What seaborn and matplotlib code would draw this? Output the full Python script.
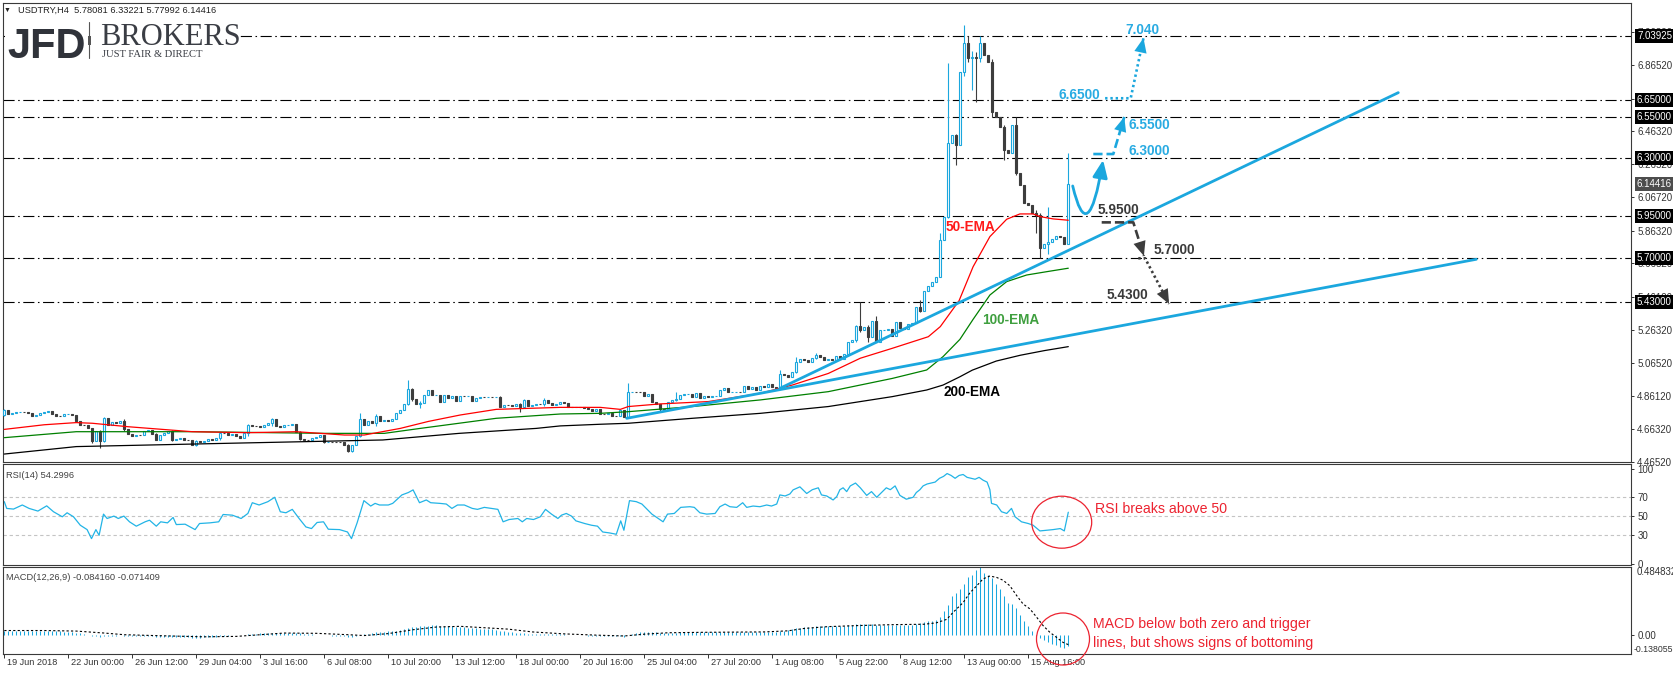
import matplotlib
matplotlib.use("Agg")
import matplotlib.pyplot as plt
from matplotlib.patches import Rectangle, Ellipse, FancyArrowPatch
from matplotlib.lines import Line2D
from matplotlib.path import Path
from matplotlib.transforms import blended_transform_factory
import numpy as np
import seaborn as sns

W, H = 1674, 675
BLUE = "#1ba7de"
RSI_BLUE = "#22b4e6"
DARK = "#3d3d3d"
RED = "#ec2330"
TXT = "#333333"

# ---------------- data ----------------
first_open = 4.749
closes = [
    4.778, 4.752, 4.758, 4.765, 4.770, 4.768, 4.760, 4.745, 4.749, 4.758, 4.768, 4.775, 4.755, 4.745, 4.740, 4.752,
    4.755, 4.748, 4.712, 4.690, 4.688, 4.668, 4.590, 4.650, 4.590, 4.728, 4.690, 4.705, 4.700, 4.715, 4.665, 4.632,
    4.625, 4.628, 4.626, 4.655, 4.660, 4.632, 4.600, 4.628, 4.640, 4.655, 4.598, 4.602, 4.607, 4.600, 4.598, 4.565,
    4.592, 4.588, 4.590, 4.602, 4.598, 4.608, 4.640, 4.638, 4.628, 4.634, 4.625, 4.612, 4.640, 4.688, 4.682, 4.680,
    4.678, 4.689, 4.700, 4.722, 4.680, 4.678, 4.688, 4.690, 4.693, 4.648, 4.603, 4.600, 4.598, 4.612, 4.614, 4.628,
    4.585, 4.588, 4.586, 4.584, 4.583, 4.570, 4.530, 4.568, 4.620, 4.722, 4.690, 4.715, 4.700, 4.745, 4.712, 4.718,
    4.715, 4.722, 4.760, 4.780, 4.815, 4.905, 4.845, 4.815, 4.820, 4.870, 4.897, 4.870, 4.872, 4.830, 4.868, 4.850,
    4.862, 4.835, 4.865, 4.862, 4.862, 4.835, 4.850, 4.858, 4.856, 4.856, 4.855, 4.858, 4.800, 4.810, 4.808, 4.806,
    4.815, 4.800, 4.840, 4.805, 4.808, 4.818, 4.815, 4.842, 4.822, 4.810, 4.814, 4.825, 4.820, 4.800, 4.795, 4.800,
    4.798, 4.790, 4.785, 4.772, 4.785, 4.755, 4.752, 4.758, 4.745, 4.741, 4.778, 4.735, 4.885, 4.890, 4.888, 4.886,
    4.862, 4.875, 4.830, 4.818, 4.785, 4.779, 4.830, 4.838, 4.845, 4.870, 4.875, 4.876, 4.857, 4.884, 4.850, 4.864,
    4.860, 4.862, 4.864, 4.900, 4.910, 4.885, 4.890, 4.890, 4.888, 4.924, 4.905, 4.918, 4.900, 4.925, 4.920, 4.936,
    4.918, 4.915, 4.998, 4.990, 4.980, 5.010, 5.072, 5.085, 5.080, 5.070, 5.092, 5.112, 5.100, 5.082, 5.090, 5.080,
    5.105, 5.090, 5.120, 5.192, 5.200, 5.287, 5.262, 5.278, 5.222, 5.318, 5.192, 5.262, 5.263, 5.268, 5.228, 5.313,
    5.275, 5.270, 5.300, 5.305, 5.402, 5.380, 5.500, 5.528, 5.555, 5.585, 5.806, 5.948, 6.390, 6.440, 6.380, 6.820,
    6.995, 6.904, 6.915, 6.905, 6.995, 6.924, 6.880, 6.582, 6.550, 6.490, 6.350, 6.330, 6.500, 6.210, 6.140, 6.030,
    6.020, 5.970, 5.960, 5.756, 5.780, 5.797, 5.815, 5.830, 5.826, 5.781, 6.14416,
]
# bar -> (high, low) where the wick is visible
wicks = {
    0: (4.785, 4.745), 22: (4.67, 4.58), 24: (4.66, 4.548), 25: (4.735, 4.585), 30: (4.725, 4.655),
    38: (4.64, 4.595), 42: (4.66, 4.59), 48: (4.595, 4.562), 54: (4.645, 4.595), 61: (4.695, 4.625),
    67: (4.73, 4.685), 73: (4.695, 4.645), 74: (4.65, 4.598), 80: (4.625, 4.58), 86: (4.575, 4.525),
    87: (4.57, 4.527), 89: (4.76, 4.615), 93: (4.755, 4.685), 101: (4.96, 4.81), 102: (4.91, 4.835),
    104: (4.835, 4.79), 124: (4.862, 4.795), 129: (4.82, 4.77), 130: (4.845, 4.795), 135: (4.85, 4.805),
    156: (4.94, 4.73), 164: (4.79, 4.77), 168: (4.89, 4.835), 194: (5.02, 4.91), 198: (5.098, 5.0),
    203: (5.126, 5.09), 213: (5.29, 5.19), 214: (5.43, 5.25), 216: (5.29, 5.19), 218: (5.35, 5.19),
    229: (5.446, 5.37), 234: (5.85, 5.58), 236: (6.874, 5.94), 238: (6.45, 6.26), 240: (7.106, 6.80),
    241: (7.04, 6.88), 242: (6.95, 6.71), 243: (6.94, 6.64), 244: (7.039, 6.88), 247: (6.90, 6.55),
    250: (6.50, 6.29), 253: (6.55, 6.20), 258: (5.99, 5.85), 259: (5.97, 5.696), 261: (6.008, 5.72),
    266: (6.33221, 5.77992),
}
ema50 = [(0, 4.662), (10, 4.690), (18, 4.703), (22, 4.699), (31, 4.678), (47, 4.648), (61, 4.642),
         (73, 4.648), (85, 4.628), (90, 4.628), (99, 4.668), (106, 4.710), (114, 4.749), (123, 4.783),
         (139, 4.795), (149, 4.795), (154, 4.783), (156, 4.800), (164, 4.816), (176, 4.830), (189, 4.880),
         (197, 4.930), (206, 5.000), (214, 5.092), (222, 5.152), (231, 5.222), (234, 5.283), (238.7, 5.440),
         (242.2, 5.645), (246.4, 5.827), (250.6, 5.932), (253.9, 5.964), (257.2, 5.964), (258.9, 5.948),
         (262.2, 5.934), (266, 5.926)]
ema100 = [(0, 4.612), (18, 4.648), (47, 4.648), (80, 4.638), (95, 4.638), (104, 4.668), (123, 4.729),
          (139, 4.755), (149, 4.759), (156, 4.769), (172, 4.800), (189, 4.840), (206, 4.890), (214, 4.930),
          (222, 4.970), (230.6, 5.021), (234.7, 5.102), (238.9, 5.206), (242.2, 5.327), (246.4, 5.474),
          (250.6, 5.555), (255.6, 5.595), (260.6, 5.615), (266, 5.636)]
ema200 = [(0, 4.513), (18, 4.558), (37, 4.568), (56, 4.578), (75.5, 4.588), (94.6, 4.598), (113.7, 4.638),
          (133, 4.668), (139, 4.683), (149, 4.693), (156, 4.699), (172, 4.729), (189, 4.759), (206, 4.800),
          (214, 4.830), (222, 4.860), (230.6, 4.900), (234.7, 4.930), (238.9, 4.980), (242, 5.020),
          (248, 5.075), (254, 5.110), (260, 5.138), (266, 5.162)]
trend_upper = [(193.9, 4.910), (348.5, 6.697)]
trend_lower = [(155.6, 4.729), (368.0, 5.690)]
levels = [7.03925, 6.65, 6.55, 6.30, 5.95, 5.70, 5.43]
last_price = 6.14416
price_ticks = [4.4652, 4.6632, 4.8612, 5.0652, 5.2632, 5.4612, 5.6652, 5.8632, 6.0672, 6.2652,
               6.4632, 6.6612, 6.8652, 7.0632]

rsi_points = [
    (0, 65.4), (0.6, 58.3), (2.3, 57.6), (4.5, 61.9), (6.2, 58.3), (8.4, 55.5), (10.6, 61.0), (12.3, 54.8),
    (14.5, 49.5), (15.7, 53.7), (17.3, 49.5), (19.0, 40.6), (20.7, 36.0), (21.8, 26.5), (22.9, 36.0),
    (23.7, 30.0), (24.8, 52.3), (25.7, 47.7), (27.4, 50.2), (28.5, 47.7), (29.9, 50.2), (31.3, 44.2),
    (33.0, 39.6), (35.2, 44.2), (36.3, 45.9), (38.0, 39.6), (39.1, 44.2), (40.8, 43.1), (42.2, 48.8),
    (43.0, 41.3), (45.2, 41.7), (47.7, 36.0), (48.8, 42.4), (51.4, 43.1), (53.6, 44.2), (54.7, 51.9),
    (57.0, 51.2), (59.2, 47.7), (60.9, 53.0), (62.0, 64.3), (63.7, 61.9), (65.9, 65.4), (67.6, 70.0),
    (69.0, 54.8), (70.4, 53.7), (72.0, 57.3), (73.7, 47.7), (75.4, 38.8), (76.8, 37.1), (78.2, 43.5),
    (79.8, 44.2), (81.0, 36.4), (83.8, 36.0), (85.8, 33.5), (86.8, 26.5), (88.2, 43.1), (89.9, 66.5),
    (91.6, 60.8), (92.7, 63.6), (93.8, 61.9), (96.0, 61.9), (97.1, 63.6), (99.4, 72.5), (101.0, 75.0),
    (102.2, 77.8), (103.8, 64.3), (105.5, 67.2), (106.6, 64.3), (108.9, 63.6), (110.5, 62.9), (111.9, 58.3),
    (113.3, 61.9), (115.0, 61.9), (117.0, 58.3), (118.3, 57.3), (120.0, 59.4), (121.7, 58.3), (123.4, 57.3),
    (124.7, 44.2), (126.2, 46.6), (128.4, 47.7), (129.5, 44.2), (130.6, 47.7), (132.3, 46.6), (134.0, 49.5),
    (135.3, 57.3), (136.8, 52.3), (138.4, 47.7), (139.3, 51.2), (140.5, 53.0), (141.8, 50.2), (142.9, 45.2),
    (145.1, 42.4), (146.8, 40.6), (148.3, 39.6), (149.6, 33.5), (151.3, 32.5), (153.0, 31.1), (154.1, 45.2),
    (154.9, 35.3), (156.3, 66.5), (158.0, 65.4), (159.4, 62.9), (161.9, 52.3), (163.5, 47.7), (164.7, 44.2),
    (165.8, 52.3), (167.5, 53.0), (169.1, 59.4), (171.4, 60.1), (172.5, 59.4), (173.9, 53.7), (175.6, 52.3),
    (177.7, 53.0), (178.9, 60.1), (180.2, 62.9), (181.4, 60.1), (183.1, 59.4), (184.6, 64.3), (185.6, 59.4),
    (187.2, 60.8), (188.9, 60.1), (190.6, 61.9), (191.8, 60.8), (193.1, 62.9), (193.9, 72.5), (195.2, 71.4),
    (196.4, 73.5), (197.2, 77.8), (198.9, 81.0), (200.6, 74.0), (202.0, 78.0), (203.5, 80.0), (204.3, 72.5),
    (205.6, 71.4), (207.2, 67.2), (208.1, 70.7), (208.9, 78.0), (209.7, 80.0), (210.6, 76.0), (211.5, 82.0),
    (212.8, 85.0), (214.0, 80.0), (215.6, 72.0), (216.8, 76.0), (218.1, 70.0), (219.3, 75.0), (220.5, 80.0),
    (221.5, 78.0), (222.7, 82.0), (223.9, 72.0), (225.5, 68.0), (227.2, 70.0), (228.0, 75.0), (228.9, 78.0),
    (229.7, 82.0), (230.7, 84.0), (231.7, 85.0), (232.7, 86.0), (233.8, 90.0), (234.8, 92.0), (235.7, 95.0),
    (236.7, 93.0), (237.7, 90.0), (238.7, 93.0), (239.7, 94.0), (240.7, 91.0), (241.7, 90.0), (242.7, 89.0),
    (243.7, 91.0), (244.7, 88.0), (245.7, 86.0), (246.4, 78.0), (246.8, 63.6), (248.1, 61.9), (249.3, 54.8),
    (250.6, 53.0), (251.8, 58.3), (252.7, 49.5), (254.3, 44.2), (256.0, 42.4), (257.2, 40.6), (258.9, 34.6),
    (260.6, 35.3), (262.2, 36.0), (264.0, 37.1), (265.0, 34.6), (266.0, 54.3),
]
macd_hist = [
    0.030, 0.030, 0.029, 0.029, 0.029, 0.029, 0.028, 0.028, 0.027, 0.027, 0.027, 0.027, 0.026, 0.025, 0.024, 0.022,
    0.020, 0.018, 0.014, 0.010, 0.005, 0.000, -0.006, -0.010, -0.014, -0.010, -0.009, -0.008, -0.006, -0.005, -0.006, -0.008,
    -0.010, -0.011, -0.012, -0.011, -0.010, -0.011, -0.013, -0.014, -0.014, -0.013, -0.015, -0.016, -0.017, -0.018, -0.019, -0.020,
    -0.020, -0.020, -0.019, -0.018, -0.017, -0.015, -0.012, -0.009, -0.007, -0.005, -0.004, -0.004, -0.002, 0.003, 0.006, 0.008,
    0.010, 0.011, 0.013, 0.015, 0.015, 0.015, 0.015, 0.015, 0.015, 0.013, 0.009, 0.006, 0.003, 0.002, 0.001, 0.001,
    -0.002, -0.004, -0.006, -0.007, -0.008, -0.010, -0.014, -0.015, -0.012, -0.004, 0.002, 0.008, 0.012, 0.018, 0.020, 0.022,
    0.024, 0.026, 0.029, 0.033, 0.038, 0.050, 0.055, 0.058, 0.060, 0.062, 0.065, 0.066, 0.066, 0.065, 0.064, 0.062,
    0.060, 0.058, 0.056, 0.054, 0.051, 0.048, 0.046, 0.044, 0.042, 0.040, 0.038, 0.036, 0.030, 0.026, 0.022, 0.018,
    0.015, 0.012, 0.011, 0.008, 0.006, 0.005, 0.005, 0.006, 0.005, 0.003, 0.002, 0.002, 0.002, 0.000, -0.002, -0.003,
    -0.004, -0.005, -0.006, -0.007, -0.009, -0.010, -0.011, -0.011, -0.012, -0.010, -0.011, -0.013, 0.000, 0.008, 0.014, 0.018,
    0.019, 0.020, 0.019, 0.017, 0.013, 0.010, 0.012, 0.013, 0.014, 0.016, 0.018, 0.019, 0.018, 0.019, 0.018, 0.018,
    0.018, 0.018, 0.020, 0.022, 0.022, 0.021, 0.020, 0.019, 0.021, 0.020, 0.020, 0.019, 0.020, 0.020, 0.021, 0.020,
    0.019, 0.020, 0.028, 0.030, 0.032, 0.040, 0.046, 0.050, 0.052, 0.054, 0.058, 0.060, 0.060, 0.060, 0.059, 0.060,
    0.060, 0.062, 0.064, 0.068, 0.070, 0.078, 0.078, 0.076, 0.080, 0.074, 0.072, 0.072, 0.072, 0.070, 0.072, 0.072,
    0.070, 0.070, 0.072, 0.072, 0.078, 0.082, 0.090, 0.098, 0.100, 0.105, 0.130, 0.170, 0.210, 0.280, 0.300, 0.330,
    0.365, 0.410, 0.430, 0.460, 0.485, 0.445, 0.430, 0.405, 0.365, 0.330, 0.280, 0.225, 0.220, 0.190, 0.140, 0.100,
    0.065, 0.030, -0.010, -0.025, -0.040, -0.055, -0.068, -0.075, -0.088, -0.098, -0.084,
]
macd_signal = [
    (0, 0.030), (10, 0.030), (18, 0.026), (25, 0.012), (30, 0.000), (40, -0.008), (50, -0.015), (58, -0.012),
    (64, 0.000), (70, 0.012), (78, 0.010), (86, 0.000), (90, -0.006), (96, 0.008), (102, 0.035), (108, 0.055),
    (114, 0.060), (120, 0.050), (126, 0.040), (132, 0.020), (140, 0.006), (148, -0.003), (155, -0.009),
    (160, 0.004), (166, 0.014), (174, 0.017), (190, 0.020), (196, 0.028), (200, 0.045), (206, 0.058),
    (214, 0.066), (222, 0.072), (230, 0.075), (233, 0.085), (235.6, 0.110), (237.2, 0.160), (239.7, 0.230),
    (241.4, 0.300), (243.1, 0.350), (244.7, 0.400), (246.4, 0.420), (248.1, 0.410), (249.7, 0.390),
    (251.4, 0.350), (253.1, 0.280), (254.7, 0.220), (256.4, 0.185), (258.1, 0.125), (259.7, 0.065),
    (261.4, 0.017), (263.1, -0.020), (264.7, -0.055), (266, -0.071),
]
date_labels = ["19 Jun 2018", "22 Jun 00:00", "26 Jun 12:00", "29 Jun 04:00", "3 Jul 16:00", "6 Jul 08:00",
               "10 Jul 20:00", "13 Jul 12:00", "18 Jul 00:00", "20 Jul 16:00", "25 Jul 04:00", "27 Jul 20:00",
               "1 Aug 08:00", "5 Aug 22:00", "8 Aug 12:00", "13 Aug 00:00", "15 Aug 16:00"]

# scenario arrows drawn on the chart: (bar, price) corners ending at the arrow tip
path_up_dashed = [(272.25, 6.326), (277.25, 6.326), (280.0, 6.550)]
path_up_dotted = [(275.2, 6.663), (281.6, 6.663), (284.8, 7.027)]
path_dn_dashed = [(274.35, 5.913), (282.25, 5.913), (284.9, 5.710)]
path_dn_dotted = [(283.5, 5.696), (285.2, 5.696), (291.2, 5.420)]
curve_up = [(267.1, 6.133), (270.9, 5.740), (274.7, 6.290)]
up_targets = [("6.3000", 281.0, 6.346), ("6.5500", 281.0, 6.501), ("6.6500", 263.5, 6.683), ("7.040", 280.2, 7.075)]
dn_targets = [("5.9500", 273.25, 5.988), ("5.7000", 287.25, 5.746), ("5.4300", 275.6, 5.474)]

# ---------------- figure ----------------
sns.set_theme(style="white")
plt.rcParams["font.family"] = ["Liberation Sans", "DejaVu Sans"]

fig = plt.figure(figsize=(W / 100, H / 100), dpi=100)
fig.patch.set_facecolor("white")


def box(x0, y0, x1, y1):
    return [x0 / W, 1 - y1 / H, (x1 - x0) / W, (y1 - y0) / H]


def ftext(x, y, s, **kw):
    return fig.text(x / W, 1 - y / H, s, **kw)


XL = ((3 - 4.3) / 4, (1631 - 4.3) / 4)
ax_p = fig.add_axes(box(3, 3, 1631, 462))
ax_r = fig.add_axes(box(3, 464, 1631, 565))
ax_m = fig.add_axes(box(3, 567, 1631, 654))

# candles
c = np.array(closes)
o = np.r_[first_open, c[:-1]]
bars = np.arange(len(c))
tops, bots = np.maximum(o, c), np.minimum(o, c)
highs, lows = tops.copy(), bots.copy()
for b, (hi, lo) in wicks.items():
    highs[b] = max(hi, tops[b])
    lows[b] = min(lo, bots[b])
up = c >= o
dn = ~up
ax_p.vlines(bars[up], lows[up], highs[up], color=BLUE, lw=0.8, zorder=3)
ax_p.vlines(bars[dn], lows[dn], highs[dn], color=DARK, lw=0.8, zorder=3)
ax_p.bar(bars[up], (tops - bots)[up], bottom=bots[up], width=0.5, facecolor="white",
         edgecolor=BLUE, linewidth=0.8, zorder=4)
ax_p.bar(bars[dn], (tops - bots)[dn], bottom=bots[dn], width=0.5, facecolor=DARK,
         edgecolor=DARK, linewidth=0.8, zorder=4)

for pts, col in [(ema200, "black"), (ema100, "#008000"), (ema50, "#ff0000")]:
    sns.lineplot(x=[p[0] for p in pts], y=[p[1] for p in pts], ax=ax_p, color=col, lw=0.9, zorder=5)
for pts in (trend_upper, trend_lower):
    sns.lineplot(x=[p[0] for p in pts], y=[p[1] for p in pts], ax=ax_p, color=BLUE, lw=2.0, zorder=6)

for lv in levels:
    ax_p.axhline(lv, color="black", lw=0.8, ls=(0, (10, 3.2, 1.4, 3.2)), zorder=2)

ax_p.text(235.4, 5.886, "50-EMA", color="#ff1a1a", fontsize=9.8, fontweight="bold", va="center", zorder=9)
ax_p.text(244.35, 5.323, "100-EMA", color="#3f9f3f", fontsize=9.8, fontweight="bold", va="center", zorder=9)
ax_p.text(234.75, 4.885, "200-EMA", color="black", fontsize=9.8, fontweight="bold", va="center", zorder=9)

HEAD = "-|>,head_length=0.75,head_width=0.32"


def arrow_path(pts, color, ls):
    sns.lineplot(x=[p[0] for p in pts], y=[p[1] for p in pts], ax=ax_p, color=color, lw=1.9,
                 ls=ls, sort=False, zorder=7)
    ax_p.annotate("", xy=pts[-1], xytext=pts[-2],
                  arrowprops=dict(arrowstyle=HEAD, mutation_scale=14, color=color, lw=0,
                                  shrinkA=0, shrinkB=0), zorder=8)


arrow_path(path_up_dashed, BLUE, (0, (3.5, 1.5)))
arrow_path(path_up_dotted, BLUE, (0, (0.9, 1.1)))
arrow_path(path_dn_dashed, DARK, (0, (3.5, 1.5)))
arrow_path(path_dn_dotted, DARK, (0, (0.9, 1.1)))
curve = Path(curve_up, [Path.MOVETO, Path.CURVE3, Path.CURVE3])
ax_p.add_patch(FancyArrowPatch(path=curve, arrowstyle=HEAD, mutation_scale=14, color=BLUE, lw=2.0,
                               transform=ax_p.transData, zorder=8))
for s, bx, py in up_targets:
    ax_p.text(bx, py, s, color="#29abe2", fontsize=9.8, fontweight="bold", va="center", zorder=9)
for s, bx, py in dn_targets:
    ax_p.text(bx, py, s, color="#3a3a3a", fontsize=9.8, fontweight="bold", va="center", zorder=9)

ax_p.set_ylim(4.4649, 7.2387)
ax_p.set_yticks(price_ticks)
ax_p.set_yticklabels([f"{t:.5f}" for t in price_ticks])
tp = blended_transform_factory(ax_p.transAxes, ax_p.transData)
XR = (1637 - 3) / 1628
for lv in levels:
    ax_p.text(XR, lv, f"{lv:.5f}", transform=tp, ha="left", va="center", fontsize=7, color="white",
              bbox=dict(boxstyle="square,pad=0.2", fc="black", ec="none"), zorder=20, clip_on=False)
ax_p.text(XR, last_price, f"{last_price:.5f}", transform=tp, ha="left", va="center", fontsize=7,
          color="white", bbox=dict(boxstyle="square,pad=0.2", fc="#4d4d4d", ec="none"), zorder=20,
          clip_on=False)

# RSI
sns.lineplot(x=[p[0] for p in rsi_points], y=[p[1] for p in rsi_points], ax=ax_r, color=RSI_BLUE, lw=0.9)
for v in (70, 50, 30):
    ax_r.axhline(v, color="#c4c4c4", lw=0.8, ls=(0, (3, 2.5)), zorder=1)
ax_r.set_ylim(-1.26, 105.05)
ax_r.set_yticks([0, 30, 50, 70, 100])
ax_r.set_yticklabels(["0", "30", "50", "70", "100"])

# MACD
ax_m.vlines(bars, 0, macd_hist, color=BLUE, lw=0.75)
sns.lineplot(x=[p[0] for p in macd_signal], y=[p[1] for p in macd_signal], ax=ax_m, color="black",
             lw=0.8, ls=(0, (2, 2)))
ax_m.set_ylim(-0.138055, 0.484832)
ax_m.set_yticks([0])
ax_m.set_yticklabels(["0.00"])
tm = blended_transform_factory(ax_m.transAxes, ax_m.transData)
ax_m.text(XR, 0.484832, "0.484832", transform=tm, ha="left", va="top", fontsize=7, color=TXT, clip_on=False)
ax_m.text((1634 - 3) / 1628, -0.138055, "-0.138055", transform=tm, ha="left", va="bottom", fontsize=6.3,
          color=TXT, clip_on=False)

for ax in (ax_p, ax_r, ax_m):
    ax.set_xlim(*XL)
    ax.set_xlabel("")
    ax.set_ylabel("")
    ax.set_facecolor("white")
    for sp in ax.spines.values():
        sp.set_color("#3a3a3a")
        sp.set_linewidth(0.8)
    ax.yaxis.tick_right()
    ax.tick_params(axis="y", length=2.5, width=0.7, pad=2, labelsize=7, colors=TXT, direction="out",
                   right=True, left=False)
    ax.tick_params(axis="x", bottom=False, labelbottom=False, top=False)
    ax.grid(False)

ax_m.set_xticks([16 * k for k in range(len(date_labels))])
ax_m.tick_params(axis="x", bottom=True, length=3, width=0.7, color=TXT, direction="out", labelbottom=False)
tx = blended_transform_factory(ax_m.transData, ax_m.transAxes)
for k, lab in enumerate(date_labels):
    ax_m.text(16 * k + 0.6, -0.05, lab, transform=tx, ha="left", va="top", fontsize=6.6, color=TXT,
              clip_on=False)

# panel captions and header
ftext(4, 10, "\u25bc", fontsize=5, va="center", color="#222222")
ftext(18, 10, "USDTRY,H4  5.78081 6.33221 5.77992 6.14416", fontsize=6.7, va="center", color="#222222")
ftext(6, 475, "RSI(14) 54.2996", fontsize=6.7, va="center", color="#404040")
ftext(6, 577, "MACD(12,26,9) -0.084160 -0.071409", fontsize=6.7, va="center", color="#404040")

# logo
fig.add_artist(Rectangle((5 / W, 1 - 62 / H), 229 / W, 44 / H, transform=fig.transFigure,
                         fc="white", ec="none", zorder=4))
ftext(7, 58, "JFD", fontsize=30, fontweight="bold", color="#30333a", va="baseline", zorder=5)
fig.add_artist(Line2D([89 / W, 89 / W], [1 - 22 / H, 1 - 58 / H], transform=fig.transFigure,
                      color="#555555", lw=0.8, zorder=5))
fig.add_artist(Rectangle((87.5 / W, 1 - 45 / H), 3 / W, 9 / H, transform=fig.transFigure,
                         fc="#555555", ec="none", zorder=5))
ftext(100, 45, "BROKERS", fontsize=22, family=["Liberation Serif", "DejaVu Serif"], color="#3a3d44",
      va="baseline", zorder=5)
ftext(102, 57, "JUST FAIR & DIRECT", fontsize=7.6, family=["Liberation Serif", "DejaVu Serif"],
      color="#3a3d44", va="baseline", zorder=5)

# red commentary
fig.add_artist(Ellipse((1061.7 / W, 1 - 522.2 / H), 60 / W, 52 / H, transform=fig.transFigure,
                       fill=False, ec=RED, lw=0.9, zorder=10))
fig.add_artist(Ellipse((1063 / W, 1 - 639 / H), 53 / W, 52 / H, transform=fig.transFigure,
                       fill=False, ec=RED, lw=0.9, zorder=10))
ftext(1095, 509, "RSI breaks above 50", fontsize=10.2, color=RED, va="center", zorder=10)
ftext(1093, 624, "MACD below both zero and trigger", fontsize=10.2, color=RED, va="center", zorder=10)
ftext(1093, 643, "lines, but shows signs of bottoming", fontsize=10.2, color=RED, va="center", zorder=10)

fig.savefig("out.png", dpi=100, facecolor="white")
